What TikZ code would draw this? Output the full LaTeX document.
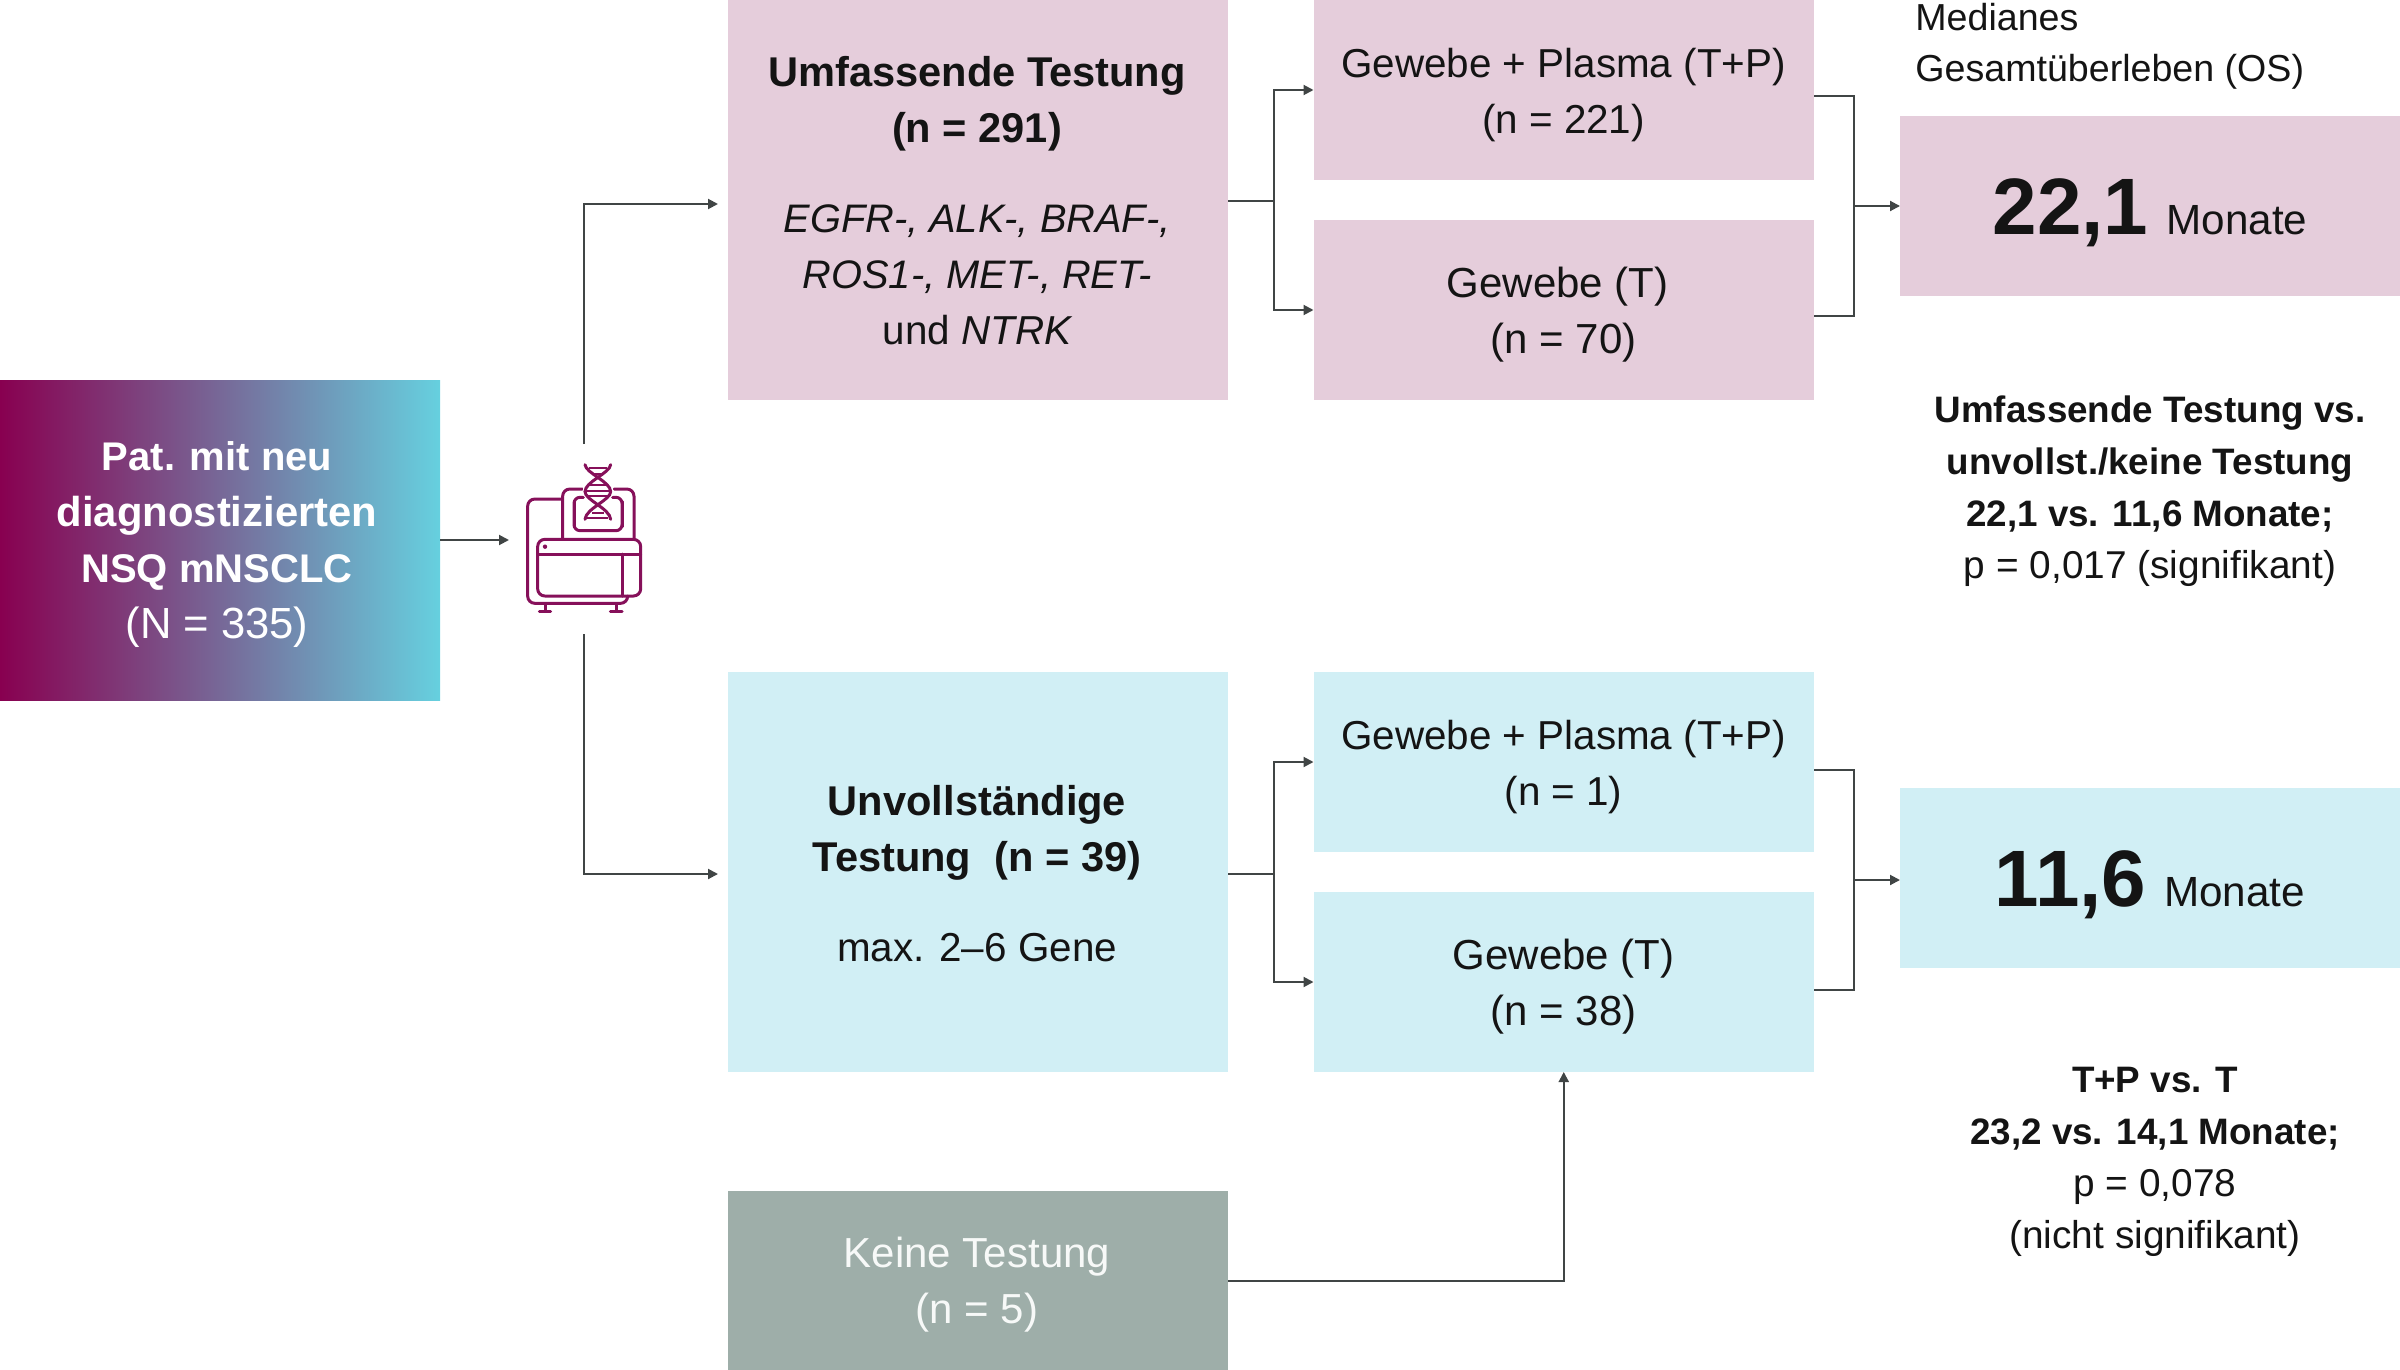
\documentclass[tikz,border=0pt]{standalone}
\usepackage{fontspec}
\setmainfont{Liberation Sans}
\usetikzlibrary{arrows.meta,calc}
\definecolor{pinkbox}{HTML}{E5CDDB}
\definecolor{bluebox}{HTML}{D1EFF5}
\definecolor{graybox}{HTML}{9EAEA9}
\definecolor{lineclr}{HTML}{404545}
\definecolor{iconclr}{HTML}{86105A}
\definecolor{txt}{HTML}{141414}
\newcommand{\reg}{\fontsize{20.2}{28}\selectfont}
\newcommand{\regw}{\fontsize{21}{28}\selectfont}
\newcommand{\ital}{\fontsize{19.9}{28}\selectfont\itshape}
\newcommand{\hd}{\fontsize{20.8}{28}\selectfont\bfseries}
\newcommand{\srchd}{\fontsize{20}{28}\selectfont\bfseries}
\newcommand{\sumhd}{\fontsize{18.4}{26}\selectfont\bfseries}
\newcommand{\sumreg}{\fontsize{19.4}{26}\selectfont}
\newcommand{\bignum}{\fontsize{40}{44}\selectfont\bfseries}
\newcommand{\monate}{\fontsize{21.1}{28}\selectfont Monate}
\tikzset{
  box/.style={rectangle,inner sep=0pt,outer sep=0pt},
  bigbox/.style={box,minimum width=250pt,minimum height=200pt},
  smallbox/.style={box,minimum width=250.25pt,minimum height=90pt},
  osbox/.style={box,minimum width=250pt,minimum height=90pt},
  label/.style={inner sep=0pt,align=center,text=txt,font=\reg},
  sumlabel/.style={label,font=\sumreg},
  conn/.style={draw=lineclr,line width=1pt},
  arr/.style={conn,-{Triangle[length=5pt,width=5pt]}},
  iconline/.style={draw=iconclr,line width=1.5pt,line cap=round,line join=round},
}
\begin{document}
\begin{tikzpicture}[x=0.5pt,y=-0.5pt]
\useasboundingbox (0,0) rectangle (2400,1370);
% source
\node[box,minimum width=220pt,minimum height=160pt,
      left color={rgb,255:red,136;green,0;blue,80},right color={rgb,255:red,102;green,208;blue,223}] (src) at (220,540) {};
\node[label,text=white] (srcT) at (217,545)
  {\srchd Pat. mit neu\\\fontsize{20.9}{28}\selectfont\bfseries diagnostizierten\\\srchd NSQ mNSCLC\\\fontsize{21.8}{28}\selectfont (N = 335)};
% top branch
\node[bigbox,fill=pinkbox] (big1) at (978,200) {};
\node[label] (big1T) at (977,201)
  {\hd Umfassende Testung\\\hd (n = 291)\\[17pt]\ital EGFR-, ALK-, BRAF-,\\\ital ROS1-, MET-, RET-\\\reg und \itshape NTRK};
\node[smallbox,fill=pinkbox] (g1) at (1563.75,90) {};
\node[label] (g1T) at (1563.5,95) {Gewebe + Plasma (T+P)\\(n = 221)};
\node[smallbox,fill=pinkbox] (t1) at (1563.75,310) {};
\node[label] (t1T) at (1563.5,315) {\regw Gewebe (T)\kern6pt\\\regw (n = 70)};
\node[osbox,fill=pinkbox] (os1) at (2150,206) {};
\node[label] (os1T) at (2150,213) {{\bignum 22,1}\hspace{9pt}{\monate}};
\node[label,anchor=west,align=left,font=\fontsize{18.8}{25.5}\selectfont] (oshead) at (1915,46.5) {Medianes\\Gesamtüberleben (OS)};
\node[sumlabel] (sum1) at (2150,491.5) {\sumhd Umfassende Testung vs.\\\sumhd unvollst./keine Testung\\\sumhd 22,1 vs. 11,6 Monate;\\p = 0,017 (signifikant)};
% bottom branch
\node[bigbox,fill=bluebox] (big2) at (978,872) {};
\node[label] (big2T) at (977,874)
  {\hd Unvollständige\\\hd Testung\ \ (n = 39)\\[17pt]max. 2–6 Gene};
\node[smallbox,fill=bluebox] (g2) at (1563.75,762) {};
\node[label] (g2T) at (1563.5,767) {Gewebe + Plasma (T+P)\\(n = 1)};
\node[smallbox,fill=bluebox] (t2) at (1563.75,982) {};
\node[label] (t2T) at (1563.5,987) {\regw Gewebe (T)\\\regw (n = 38)};
\node[osbox,fill=bluebox] (os2) at (2150,878) {};
\node[label] (os2T) at (2150,885) {{\bignum 11,6}\hspace{9pt}{\monate}};
\node[sumlabel] (sum2) at (2155,1161.5) {\sumhd T+P vs. T\\\sumhd 23,2 vs. 14,1 Monate;\\p = 0,078\\(nicht signifikant)};
\node[box,fill=graybox,minimum width=250pt,minimum height=89.5pt] (none) at (978,1280.5) {};
\node[label,text=white!92!graybox,font=\regw] (noneT) at (977,1285) {Keine Testung\\(n = 5)};
% icon anchors
\coordinate (iconW) at (509,540);
\coordinate (iconN) at (584,444);
\coordinate (iconS) at (584,634);
% connector helpers
\coordinate (toBig1) at (718,204);
\coordinate (toBig2) at (718,874);
\coordinate (f1) at (1274,201);
\coordinate (f2) at (1274,874);
\coordinate (m1) at (1854,206);
\coordinate (m2) at (1854,880);
\coordinate (g1r) at (1814,96);
\coordinate (t1r) at (1814,316);
\coordinate (g2r) at (1814,770);
\coordinate (t2r) at (1814,990);
% connectors
\draw[arr] (src.east) -- (iconW);
\draw[arr] (iconN) |- (toBig1);
\draw[arr] (iconS) |- (toBig2);
\draw[conn] (f1 -| big1.east) -- (f1);
\draw[arr] (f1) |- (g1.west);
\draw[arr] (f1) |- (t1.west);
\draw[conn] (g1r) -| (m1);
\draw[conn] (t1r) -| (m1);
\draw[arr] (m1) -- (m1 -| os1.west);
\draw[conn] (f2 -| big2.east) -- (f2);
\draw[arr] (f2) |- (g2.west);
\draw[arr] (f2) |- (t2.west);
\draw[conn] (g2r) -| (m2);
\draw[conn] (t2r) -| (m2);
\draw[arr] (m2) -- (m2 -| os2.west);
\draw[arr] (none.east) -| (t2.south);
% sequencer icon
\begin{scope}[shift={(480,420)},x=0.16667pt,y=-0.16667pt]
  \draw[iconline,rounded corners=3.6pt] (245,237) -- (143,237) -- (143,550) -- (443,550) -- (443,532);
  \draw[iconline,rounded corners=3.6pt] (248,355) -- (248,207) -- (307,207);
  \draw[iconline,rounded corners=3.6pt] (402,207) -- (462,207) -- (462,355);
  \draw[iconline,rounded corners=3pt] (282,232) rectangle (426,332);
  \draw[iconline,rounded corners=3.6pt] (173,358) rectangle (482,528);
  \draw[iconline] (173,402) -- (482,402);
  \draw[iconline] (427,402) -- (427,528);
  \fill[iconclr] (195,380) circle[radius=1.1pt];
  \draw[iconline] (195,552) -- (195,573) (178,574) -- (212,574);
  \draw[iconline] (408,552) -- (408,573) (391,574) -- (426,574);
  % helix
  \fill[white] (310,205) rectangle (398,300);
  \foreach \xx in {282,426}{\draw[iconline] (\xx,245) -- (\xx,320);}
  \draw[iconline] (295,232) -- (310,232) (398,232) -- (413,232);
  \draw[draw=iconclr,line width=1.5pt,line cap=round]
      (315,134) .. controls (318,160) and (392,185) .. (392,215) .. controls (392,240) and (318,265) .. (315,298);
  \draw[draw=iconclr,line width=1.5pt,line cap=round]
      (392,134) .. controls (389,160) and (315,185) .. (315,215) .. controls (315,240) and (389,265) .. (392,298);
  \foreach \yy/\xa/\xb in {145/326/381,162/338/369,195/322/385,212/316/391,229/322/385,280/336/371,295/322/385}{
    \draw[draw=iconclr,line width=1.1pt] (\xa,\yy) -- (\xb,\yy);
  }
\end{scope}
\end{tikzpicture}
\end{document}
